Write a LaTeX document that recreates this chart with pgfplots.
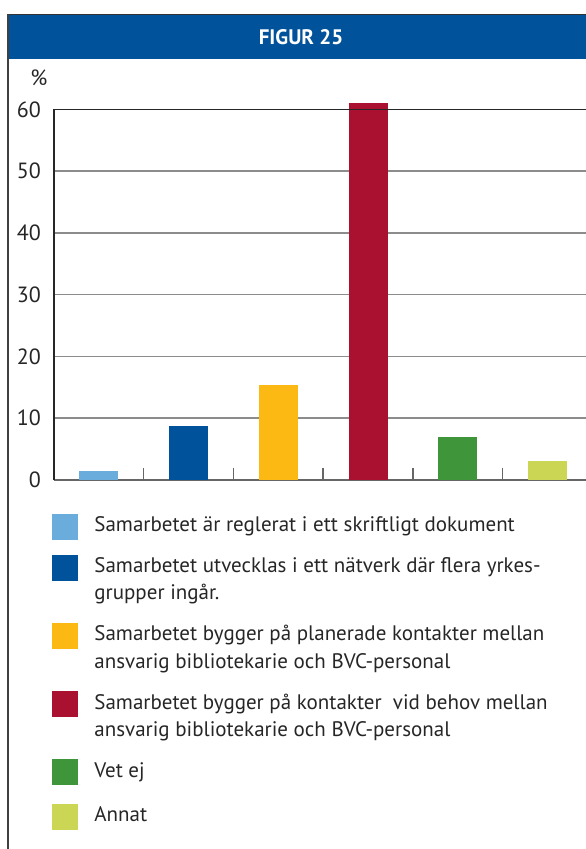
\documentclass[border=0pt]{standalone}
\usepackage{fontspec}
\setmainfont{PT Sans}
\usepackage{pgfplots}
\pgfplotsset{compat=1.18}
\definecolor{cA}{HTML}{6AACDC}
\definecolor{cB}{HTML}{00529B}
\definecolor{cC}{HTML}{FDB913}
\definecolor{cD}{HTML}{AA1030}
\definecolor{cE}{HTML}{3F963A}
\definecolor{cF}{HTML}{CCD655}
\definecolor{hdr}{HTML}{00529B}
\newcommand{\legfont}{\fontsize{21}{27.3}\selectfont}
\newcommand{\entry}[1]{\parbox[t]{500pt}{\strut #1\strut}}
\pgfplotsset{
  legsq/.style={legend image code/.code={\fill[##1,draw=none] (0pt,-8pt) rectangle (26pt,18pt);}},
  mybar/.style={ybar, bar width=39pt, bar shift=0pt, draw=none, fill=#1, legsq},
}
\begin{document}
\begin{tikzpicture}
\path[use as bounding box, clip] (0,0) rectangle (586pt,-849pt);
\fill[hdr] (8pt,-14.3pt) rectangle (600pt,-59pt);
\draw[black!80, line width=1pt] (8pt,-14.3pt) -- (600pt,-14.3pt);
\draw[black!75, line width=1.3pt] (8pt,-14.3pt) -- (8pt,-860pt);
\node[text=white, font=\fontsize{21}{25}\selectfont\bfseries] at (301pt,-37pt) {FIGUR 25};
\node[font=\fontsize{22}{26}\selectfont, text=black!85] at (39pt,-78pt) {\%};
\begin{axis}[
  at={(54pt,-480pt)}, anchor=south west,
  scale only axis, width=532pt, height=370.7pt,
  xmin=-0.5, xmax=5.43, ymin=0, ymax=60,
  clip=false,
  axis x line=bottom, axis y line=left,
  x axis line style={-, draw=black!60, line width=1.5pt},
  y axis line style={-, draw=black!85, line width=1.2pt},
  xtick={0.5,1.5,2.5,3.5,4.5}, xticklabels={},
  ytick={0,10,20,30,40,50,60},
  tick align=inside, major tick length=12pt,
  xtick style={draw=black!60, line width=1.3pt},
  ytick style={draw=none},
  ymajorgrids, major grid style={draw=black!45, line width=1.6pt},
  /pgf/number format/assume math mode=true,
  yticklabel style={font=\fontsize{22}{26}\selectfont, text=black!85, inner sep=0pt, xshift=-13pt},
  legend style={draw=none, fill=none, at={(-0.00376,-0.0874)}, anchor=north west,
    inner sep=0pt, outer sep=0pt, row sep=13.7pt, column sep=16.4pt,
    cells={anchor=base west}, nodes={inner sep=0pt, text depth=, font=\legfont, text=black!85}},
]
\addplot[mybar=cA] coordinates {(0,1.5)};
\addlegendentry{\entry{Samarbetet är reglerat i ett skriftligt dokument}}
\addplot[mybar=cB] coordinates {(1,8.7)};
\addlegendentry{\entry{Samarbetet utvecklas i ett nätverk där flera yrkes-\\grupper ingår.}}
\addplot[mybar=cC] coordinates {(2,15.4)};
\addlegendentry{\entry{Samarbetet bygger på planerade kontakter mellan\\ansvarig bibliotekarie och BVC-personal}}
\addplot[mybar=cD] coordinates {(3,61.0)};
\addlegendentry{\entry{Samarbetet bygger på kontakter\ \ vid behov mellan\\ansvarig bibliotekarie och BVC-personal}}
\addplot[mybar=cE] coordinates {(4,7.0)};
\addlegendentry{\entry{Vet ej}}
\addplot[mybar=cF] coordinates {(5,3.1)};
\addlegendentry{\entry{\rule{0pt}{22.6pt}Annat}}
\draw[black!85, line width=1pt] (axis cs:-0.5,60) -- (axis cs:5.43,60);
\end{axis}
\end{tikzpicture}
\end{document}
